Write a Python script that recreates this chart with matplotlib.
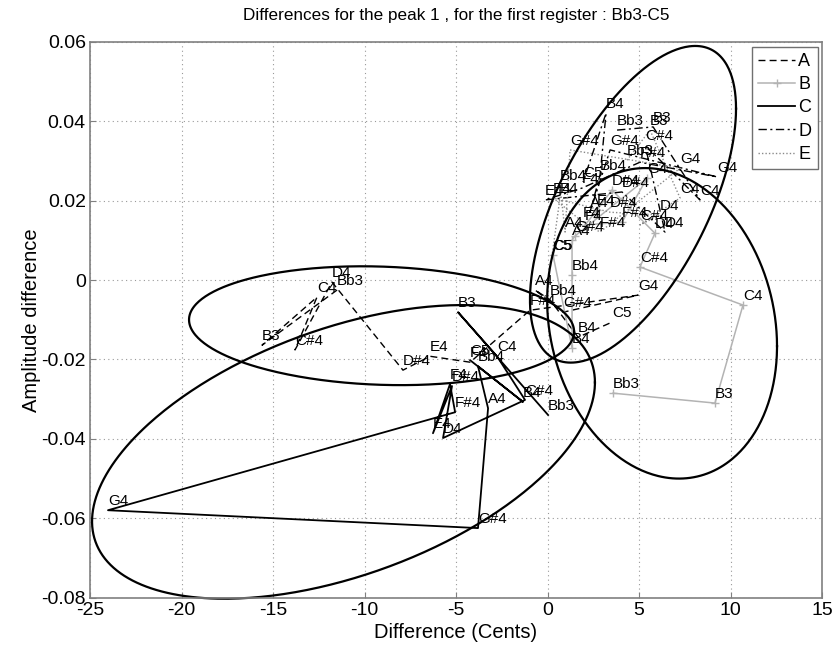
import numpy as np
import matplotlib
matplotlib.use("Agg")
import matplotlib.pyplot as plt

plt.rcParams['font.family'] = ['Liberation Sans', 'DejaVu Sans']
plt.rcParams['axes.unicode_minus'] = False

# ---------------- data ----------------
notes = ["Bb3", "B3", "C4", "C#4", "D4", "D#4", "E4", "F4", "F#4",
         "G4", "G#4", "A4", "Bb4", "B4", "C5"]

a_x = [-11.50, -15.60, -12.60, -13.80, -11.78, -7.90, -6.42, -4.23, -0.96,
       4.95, 0.85, -0.68, 0.14, 1.67, 3.52]
a_y = [-0.0025, -0.0164, -0.0043, -0.0176, -0.0005, -0.0227, -0.0192, -0.0207, -0.0076,
       -0.0038, -0.0081, -0.0025, -0.0050, -0.0144, -0.0106]

b_x = [3.58, 9.15, 10.68, 5.05, 5.87, 3.52, 2.70, 2.05, 4.07,
       5.44, 1.50, 1.34, 1.34, 1.34, 0.30]
b_y = [-0.0285, -0.0310, -0.0063, 0.0033, 0.0118, 0.0227, 0.0176, 0.0139, 0.0146,
       0.0257, 0.0111, 0.0101, 0.0013, -0.0171, 0.0063]

c_x = [0.03, -4.89, -2.76, -1.23, -5.71, -5.22, -6.26, -5.33, -5.05,
       -24.02, -3.80, -3.25, -3.80, -1.34, -4.23]
c_y = [-0.0340, -0.0081, -0.0192, -0.0302, -0.0398, -0.0267, -0.0386, -0.0262, -0.0333,
       -0.0580, -0.0625, -0.0323, -0.0217, -0.0307, -0.0202]

d_x = [3.80, 5.77, 8.33, 5.33, 6.42, 4.07, -0.14, 1.89, 5.05,
       9.26, 3.42, 2.32, 2.87, 3.20, 1.94]
d_y = [0.0378, 0.0386, 0.0202, 0.0340, 0.0121, 0.0222, 0.0202, 0.0232, 0.0297,
       0.0260, 0.0328, 0.0171, 0.0265, 0.0421, 0.0247]

e_x = [4.34, 5.60, 7.24, 5.05, 6.15, 3.42, 0.30, 1.94, 2.87,
       7.24, 1.23, 0.96, 0.68, 0.68, 0.25]
e_y = [0.0302, 0.0378, 0.0207, 0.0139, 0.0164, 0.0171, 0.0207, 0.0146, 0.0121,
       0.0282, 0.0328, 0.0121, 0.0239, 0.0207, 0.0063]

series_names = ["A", "B", "C", "D", "E"]

# ellipses: centre (x, y), x semi-extent, y shear, y semi-axis (data units)
ell_cx = [-11.15, -9.07, 4.67, 6.26]
ell_cy = [-0.0433, -0.0115, 0.0191, -0.0109]
ell_ux = [13.74, 10.52, 5.63, 6.28]
ell_uy = [0.0175, -0.0015, 0.0241, -0.00575]
ell_vy = [0.0326, 0.0149, 0.0318, 0.0387]

x_ticks = [-25, -20, -15, -10, -5, 0, 5, 10, 15]
y_ticks = [-0.08, -0.06, -0.04, -0.02, 0, 0.02, 0.04, 0.06]
y_ticklabels = ["-0.08", "-0.06", "-0.04", "-0.02", "0", "0.02", "0.04", "0.06"]

# ---------------- figure ----------------
fig = plt.figure(figsize=(8.36, 6.45), dpi=100)
ax = fig.add_axes([0.1077, 0.0736, 0.8756, 0.8613])

styles = [
    dict(color="black", linestyle=(0, (5, 3)), linewidth=1.0),
    dict(color="#b3b3b3", linestyle="-", linewidth=1.1, marker="+", markersize=6),
    dict(color="black", linestyle="-", linewidth=1.3),
    dict(color="black", linestyle=(0, (6, 2.5, 1.5, 2.5)), linewidth=1.0),
    dict(color="#8a8a8a", linestyle=(0, (1, 1.5)), linewidth=1.0),
]
xs = [a_x, b_x, c_x, d_x, e_x]
ys = [a_y, b_y, c_y, d_y, e_y]

for name, sx, sy, st in zip(series_names, xs, ys, styles):
    ax.plot(sx, sy, label=name, **st)
    for n, px, py in zip(notes, sx, sy):
        ax.text(px, py + 0.0006, n, fontsize=11, ha="left", va="bottom", color="black")

t = np.linspace(0, 2 * np.pi, 400)
for cx, cy, ux, uy, vy in zip(ell_cx, ell_cy, ell_ux, ell_uy, ell_vy):
    ax.plot(cx + ux * np.cos(t), cy + uy * np.cos(t) + vy * np.sin(t),
            color="black", linewidth=1.6, clip_on=False)

ax.set_xlim(-25, 15)
ax.set_ylim(-0.08, 0.06)
ax.set_xticks(x_ticks)
ax.set_xticklabels([str(v) for v in x_ticks])
ax.set_yticks(y_ticks)
ax.set_yticklabels(y_ticklabels)
ax.tick_params(direction="in", labelsize=14, length=4, color="#808080", pad=3)
ax.grid(True, linestyle=(0, (1, 3)), color="#999999", linewidth=0.8)
for sp in ax.spines.values():
    sp.set_color("#808080")
    sp.set_linewidth(1.2)

ax.set_title("Differences for the peak 1 , for the first register : Bb3-C5", fontsize=12.3, pad=16)
ax.set_xlabel("Difference (Cents)", fontsize=14.5, labelpad=3)
ax.set_ylabel("Amplitude difference", fontsize=14.5, labelpad=0)

leg = ax.legend(loc="upper right", fontsize=13, frameon=True, fancybox=False,
                handlelength=2.0, handletextpad=0.2, labelspacing=0.35,
                borderpad=0.35, borderaxespad=0.25, framealpha=1)
leg.get_frame().set_edgecolor("#707070")
leg.get_frame().set_linewidth(1.0)

fig.savefig("out.png", dpi=100)
